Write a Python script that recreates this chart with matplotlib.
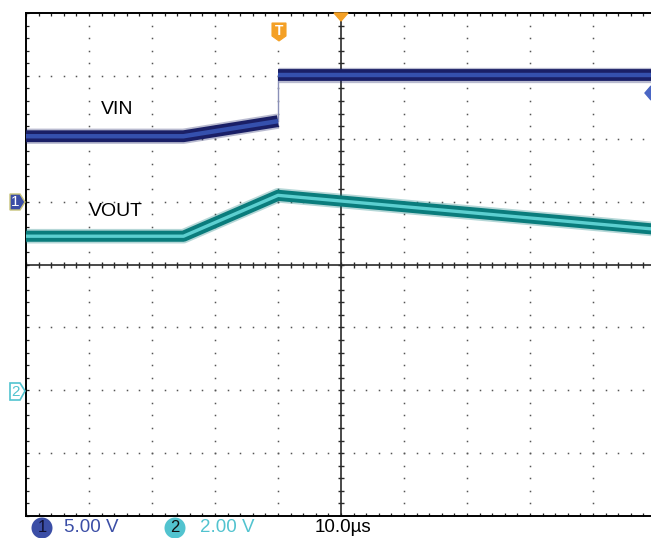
import numpy as np
import matplotlib
matplotlib.use("Agg")
import matplotlib.pyplot as plt
from matplotlib.patches import Polygon, Ellipse

# --- Данные (время в мкс относительно триггера, напряжения в В) ---
VIN_T1 = [-40, -15, 0]
VIN_V1 = [5.2, 5.2, 6.4]
VIN_T2 = [0, 60]
VIN_V2 = [10.1, 10.1]
VOUT_T = [-40, -15, 0, 60]
VOUT_V = [4.9, 4.9, 6.2, 5.12]

CH1_SCALE = 5.0   # V/div
CH2_SCALE = 2.0   # V/div
CH1_OFFSET = 1.0  # div
CH2_OFFSET = -2.0  # div
TIME_DIV = 10.0   # us/div
T_LEFT, T_RIGHT = -40, 60
CH1_LABEL = "5.00 V"
CH2_LABEL = "2.00 V"
TIME_LABEL = "10.0\u00b5s"

NAVY = "#1a1f66"
NAVY_MID = "#3550ad"
TEAL = "#0a7c7c"
TEAL_MID = "#5ccfd0"
ORANGE = "#f4a025"
CH1_COL = "#3b4ea6"
CH2_COL = "#52c3cf"
NARROW = ["Liberation Sans Narrow", "Liberation Sans", "DejaVu Sans"]

W, H = 651, 538
fig = plt.figure(figsize=(W / 100, H / 100), dpi=100)


def px(x, y):
    """Пиксели картинки -> доли фигуры."""
    return x / W, 1 - y / H


left, top, right, bottom = 26, 13, 656, 516
ax = fig.add_axes([left / W, 1 - bottom / H, (right - left) / W, (bottom - top) / H])
ax.set_xlim(T_LEFT, T_RIGHT)
ax.set_ylim(-4, 4)

# сетка: точки на каждой 1/5 деления
minor_x = np.arange(T_LEFT, T_RIGHT + 0.01, TIME_DIV / 5)
minor_y = np.arange(-4, 4.01, 0.2)
for xv in np.arange(T_LEFT + TIME_DIV, T_RIGHT + 0.01, TIME_DIV):
    if abs(xv - 10) < 1e-6:
        continue
    ax.plot(np.full_like(minor_y, xv), minor_y, ls="none", marker="s", ms=1.1,
            color="#555555", mew=0)
for yv in [-3, -2, -1, 1, 2, 3]:
    ax.plot(minor_x, np.full_like(minor_x, yv), ls="none", marker="s", ms=1.1,
            color="#555555", mew=0)

# центральные оси с рисками
ax.axhline(0, color="#2a2a2a", lw=1.2, zorder=1)
ax.axvline(10, color="#2a2a2a", lw=1.2, zorder=1)
ax.plot(minor_x, np.zeros_like(minor_x), ls="none", marker="|", ms=4.5,
        mew=1, color="#2a2a2a")
ax.plot(np.full_like(minor_y, 10), minor_y, ls="none", marker="_", ms=4.5,
        mew=1, color="#2a2a2a")

# рамка
for s in ["top", "left", "bottom"]:
    ax.spines[s].set_linewidth(1.4)
    ax.spines[s].set_color("black")
ax.spines["right"].set_visible(False)
ax.set_xticks(minor_x)
ax.set_yticks(minor_y)
ax.tick_params(direction="in", length=2.5, width=0.9, top=True, bottom=True,
               left=True, right=False, labelbottom=False, labelleft=False,
               colors="#222222")


def to_div(v, scale, off):
    return np.asarray(v) / scale + off


# VIN
for tt, vv in [(VIN_T1, VIN_V1), (VIN_T2, VIN_V2)]:
    yy = to_div(vv, CH1_SCALE, CH1_OFFSET)
    ax.plot(tt, yy, color=NAVY, lw=11, alpha=0.3, solid_capstyle="butt", zorder=3)
    ax.plot(tt, yy, color=NAVY, lw=8.5, solid_capstyle="butt", zorder=4)
    ax.plot(tt, yy, color=NAVY_MID, lw=3.2, solid_capstyle="butt", zorder=5)
ax.plot([0, 0], to_div([VIN_V1[-1], VIN_V2[0]], CH1_SCALE, CH1_OFFSET),
        color="#8a90b8", lw=1, zorder=3)

# VOUT
yy = to_div(VOUT_V, CH2_SCALE, CH2_OFFSET)
ax.plot(VOUT_T, yy, color=TEAL, lw=10.5, alpha=0.3, solid_capstyle="butt", zorder=3)
ax.plot(VOUT_T, yy, color=TEAL, lw=8.0, solid_capstyle="butt", zorder=4)
ax.plot(VOUT_T, yy, color=TEAL_MID, lw=2.4, solid_capstyle="butt", zorder=5)

ax.text(-25.5, to_div(7.3, CH1_SCALE, CH1_OFFSET), "VIN", ha="center",
        va="center", fontsize=14, family=NARROW, color="black", zorder=6)
ax.text(-25.8, to_div(5.7, CH2_SCALE, CH2_OFFSET), "VOUT", ha="center",
        va="center", fontsize=14, family=NARROW, color="black", zorder=6)


def poly(points, **kw):
    fig.patches.append(Polygon([px(x, y) for x, y in points], closed=True,
                               transform=fig.transFigure, **kw))


# маркер канала 1
poly([(10, 194), (20, 194), (25, 202), (20, 210), (10, 210)],
     facecolor=CH1_COL, edgecolor="#c8c47a", lw=1)
fig.text(*px(15.5, 202.5), "1", color="white", ha="center", va="center",
         fontsize=11, family=NARROW)
# маркер канала 2
poly([(10, 383), (20, 383), (25, 391), (20, 400), (10, 400)],
     facecolor="white", edgecolor=CH2_COL, lw=1.2)
fig.text(*px(15.5, 391.5), "2", color=CH2_COL, ha="center", va="center",
         fontsize=11, family=NARROW)
# маркер триггера T
poly([(272, 23), (286, 23), (286, 36), (279, 41), (272, 36)],
     facecolor=ORANGE, edgecolor=ORANGE, lw=0.8)
fig.text(*px(279, 31), "T", color="white", ha="center", va="center",
         fontsize=10, family=NARROW, fontweight="bold")
# позиция по горизонтали
poly([(334, 13), (348, 13), (341, 21)], facecolor=ORANGE, edgecolor=ORANGE)
# уровень триггера
poly([(651, 86), (645, 93), (651, 100)], facecolor="#4a66c4", edgecolor="#4a66c4")

# нижняя строка
fig.patches.append(Ellipse(px(42, 528), 21 / W, 21 / H, transform=fig.transFigure,
                           facecolor=CH1_COL, edgecolor="none"))
fig.text(*px(42, 528), "1", ha="center", va="center", fontsize=12,
         family=NARROW, color="#111133")
fig.text(*px(64, 528), CH1_LABEL, ha="left", va="center", fontsize=13.5,
         family=NARROW, color=CH1_COL)
fig.patches.append(Ellipse(px(175, 528), 21 / W, 21 / H, transform=fig.transFigure,
                           facecolor=CH2_COL, edgecolor="none"))
fig.text(*px(175, 528), "2", ha="center", va="center", fontsize=12,
         family=NARROW, color="#111111")
fig.text(*px(200, 528), CH2_LABEL, ha="left", va="center", fontsize=13.5,
         family=NARROW, color=CH2_COL)
fig.text(*px(315, 528), TIME_LABEL, ha="left", va="center", fontsize=13.5,
         family=NARROW, color="black")

fig.savefig("out.png", dpi=100)
